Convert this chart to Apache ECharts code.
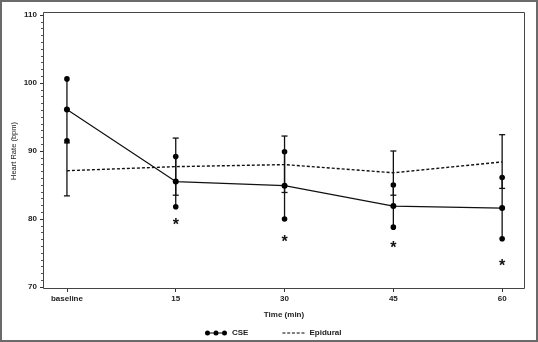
<!DOCTYPE html>
<html>
<head>
  <meta charset="UTF-8">
  <title>Heart Rate</title>
  <script src="https://cdn.jsdelivr.net/npm/echarts@6/dist/echarts.min.js"></script>
  <style>
    body { margin: 0; background: #fff; }
    #main { width: 538px; height: 342px; }
  </style>
</head>
<body>
  <div id="main"></div>
  <script>
    // values
    const timePoints = ['baseline', '15', '30', '45', '60'];
    const cseMean  = [96.1, 85.5, 84.9, 81.9, 81.6];
    const cseUpper = [100.6, 89.2, 89.9, 85.0, 86.1];
    const cseLower = [91.5, 81.8, 80.0, 78.8, 77.1];
    const epiMean  = [87.1, 87.7, 88.0, 86.8, 88.4];
    const epiUpper = [91.2, 91.9, 92.2, 90.0, 92.4];
    const epiLower = [83.4, 83.5, 83.9, 83.5, 84.5];
    const sigStar  = [null, 79.4, 76.9, 76.1, 73.4];
    const yTicks   = [70, 80, 90, 100, 110];

    const font = 'Liberation Sans, Arial, sans-serif';
    const idx = timePoints.map((t, i) => i);

    const csePath = 'path://M5,2.5L8.5,2.5L8.5,3.5L5,3.5Z M13.5,2.5L17,2.5L17,3.5L13.5,3.5Z' +
      'M0,3a2.5,2.5 0 1,0 5,0a2.5,2.5 0 1,0 -5,0' +
      'M8.5,3a2.5,2.5 0 1,0 5,0a2.5,2.5 0 1,0 -5,0' +
      'M17,3a2.5,2.5 0 1,0 5,0a2.5,2.5 0 1,0 -5,0';
    const epiPath = 'path://M0,0h3v1.2h-3z M4.75,0h3v1.2h-3z M9.5,0h3v1.2h-3z M14.25,0h3v1.2h-3z M19,0h3v1.2h-3z';

    function errorBars(lower, upper, ends) {
      return {
        type: 'custom',
        silent: true,
        z: 3,
        data: idx.map(i => [i, lower[i], upper[i]]),
        renderItem: function (params, api) {
          const lo = api.coord([api.value(0), api.value(1)]);
          const hi = api.coord([api.value(0), api.value(2)]);
          const children = [{
            type: 'line',
            shape: { x1: lo[0], y1: lo[1], x2: hi[0], y2: hi[1] },
            style: { stroke: '#111', lineWidth: 1.3 }
          }];
          [lo, hi].forEach(p => {
            if (ends === 'dot') {
              children.push({ type: 'circle', shape: { cx: p[0], cy: p[1], r: 2.8 }, style: { fill: '#000' } });
            } else {
              children.push({ type: 'line', shape: { x1: p[0] - 3, y1: p[1], x2: p[0] + 3, y2: p[1] },
                style: { stroke: '#111', lineWidth: 1.3 } });
            }
          });
          return { type: 'group', children: children };
        }
      };
    }

    const chart = echarts.init(document.getElementById('main'));
    chart.setOption({
      animation: false,
      backgroundColor: '#fff',
      textStyle: { fontFamily: font },
      grid: { left: 43, right: 13, top: 15, bottom: 55, show: false, containLabel: false, outerBoundsMode: 'none' },
      graphic: [
        { type: 'rect', shape: { x: 1, y: 1, width: 536, height: 340 }, style: { fill: 'none', stroke: '#6a6a6a', lineWidth: 2 }, z: 100 },
        { type: 'rect', shape: { x: 43.5, y: 12.5, width: 481, height: 276 }, style: { fill: 'none', stroke: '#444', lineWidth: 1 }, z: 100 }
      ],
      legend: {
        left: 200, top: 324,
        itemWidth: 22, itemHeight: 6, itemGap: 34,
        textStyle: { fontSize: 8, fontWeight: 'bold', color: '#222', fontFamily: font },
        data: [{ name: 'CSE', icon: csePath }, { name: 'Epidural', icon: epiPath }]
      },
      xAxis: {
        type: 'value', min: -0.22, max: 4.21, offset: 2, position: 'bottom',
        name: 'Time (min)', nameLocation: 'middle', nameGap: 22, nameMoveOverlap: false,
        nameTextStyle: { fontSize: 8, fontWeight: 'bold', color: '#222' },
        axisLine: { show: false, onZero: false },
        axisTick: { show: true, inside: false, customValues: idx, length: 3, lineStyle: { color: '#333' } },
        axisLabel: { customValues: idx, formatter: v => timePoints[Math.round(v)], fontSize: 8, fontWeight: 'bold', color: '#222', margin: 6 },
        splitLine: { show: false }
      },
      yAxis: {
        type: 'value', position: 'left',
        min: yTicks[0], max: yTicks[yTicks.length - 1], interval: 10,
        name: 'Heart Rate (bpm)', nameLocation: 'middle', nameRotate: 90, nameGap: 25, nameMoveOverlap: false,
        nameTextStyle: { fontSize: 7.5, color: '#222' },
        axisLine: { show: true, onZero: false, lineStyle: { color: '#333' } },
        axisTick: { show: true, inside: false, length: 3, lineStyle: { color: '#333' } },
        minorTick: { show: true, splitNumber: 10, length: 2, lineStyle: { color: '#555' } },
        axisLabel: { fontSize: 8, fontWeight: 'bold', color: '#222', margin: 6 },
        splitLine: { show: false }
      },
      series: [
        {
          name: 'CSE', type: 'line', z: 4,
          data: idx.map(i => [i, cseMean[i]]),
          symbol: 'circle', symbolSize: 6,
          itemStyle: { color: '#000' },
          lineStyle: { color: '#111', width: 1.2 }
        },
        {
          name: 'Epidural', type: 'line', z: 4,
          data: idx.map(i => [i, epiMean[i]]),
          symbol: 'none',
          itemStyle: { color: '#000' },
          lineStyle: { color: '#111', width: 1.4, type: [3, 2] }
        },
        errorBars(cseLower, cseUpper, 'dot'),
        errorBars(epiLower, epiUpper, 'cap'),
        {
          type: 'custom', silent: true, z: 5,
          data: idx.filter(i => sigStar[i] != null).map(i => [i, sigStar[i]]),
          renderItem: function (params, api) {
            const p = api.coord([api.value(0), api.value(1)]);
            return {
              type: 'text',
              style: { text: '*', x: p[0], y: p[1] + 3, align: 'center', verticalAlign: 'middle',
                font: 'bold 16px ' + font, fill: '#111' }
            };
          }
        }
      ]
    });
  </script>
</body>
</html>
